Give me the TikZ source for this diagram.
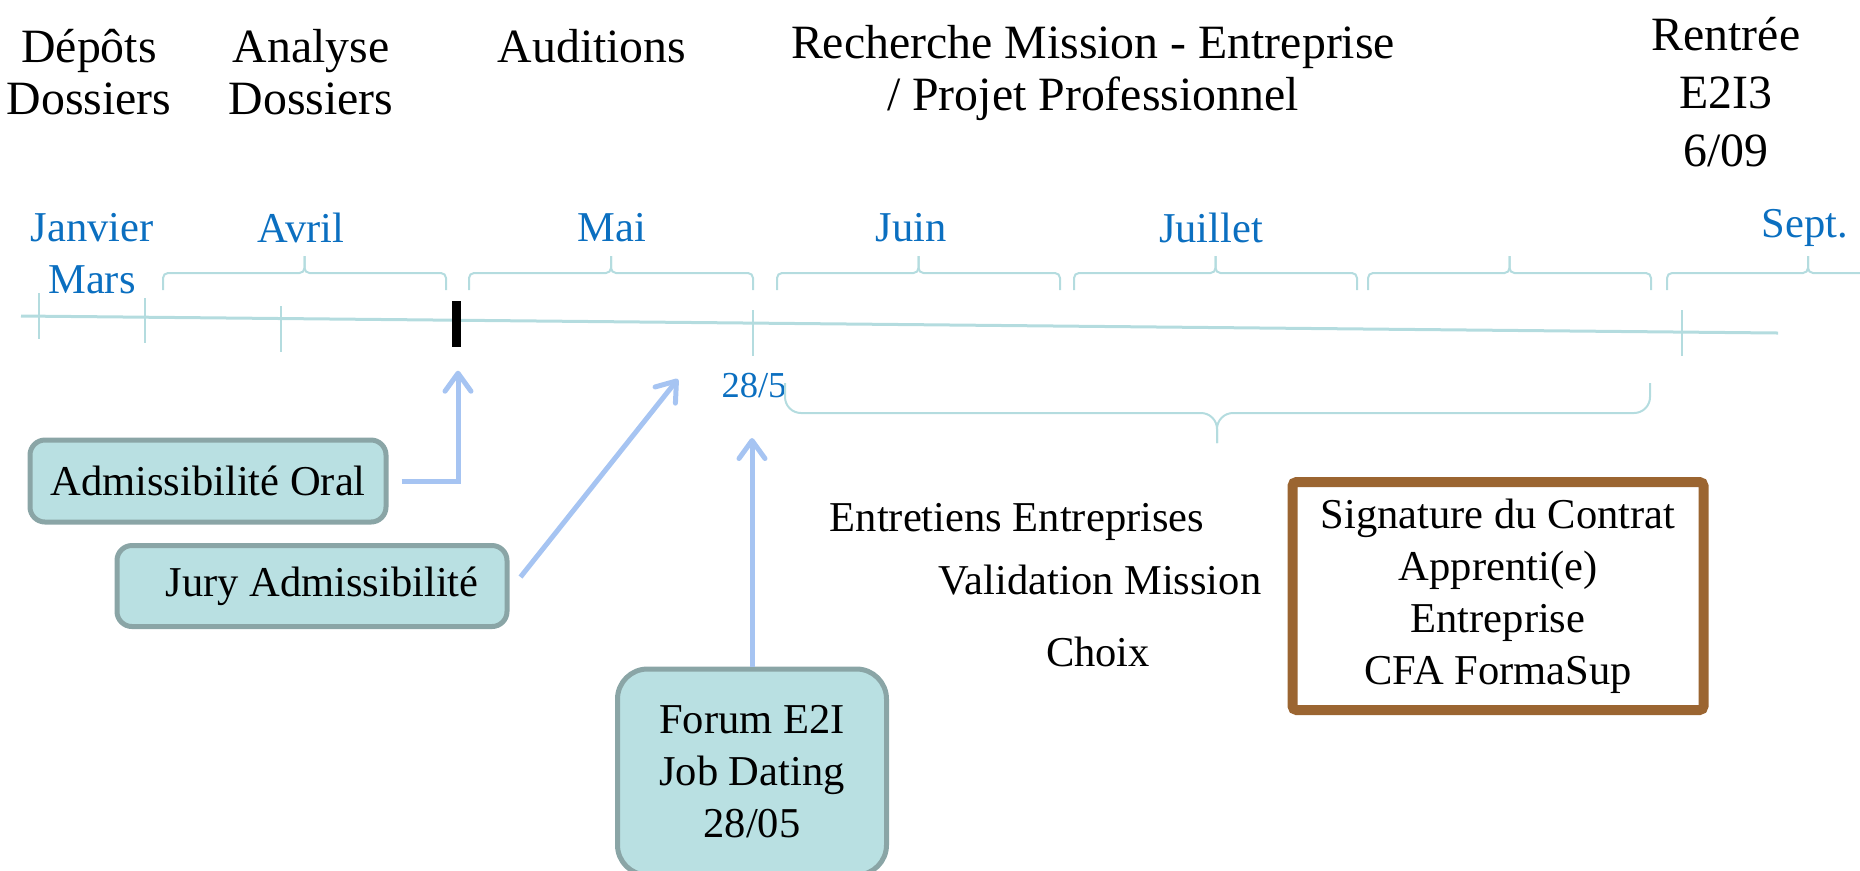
\documentclass[tikz,border=0pt]{standalone}
\usepackage{fontspec}
\setmainfont{Liberation Serif}
\usetikzlibrary{arrows.meta,positioning}
\definecolor{lineteal}{HTML}{B4DCDF}
\definecolor{monthblue}{HTML}{0B6FC0}
\definecolor{boxfill}{HTML}{B9E0E2}
\definecolor{boxborder}{HTML}{8AA5A6}
\definecolor{arrowblue}{HTML}{A6C4F2}
\definecolor{contractbrown}{HTML}{9B6531}
\begin{document}
\begin{tikzpicture}[
  x=0.1mm, y=-0.1mm,
  font=\fontsize{12.1}{14.8}\selectfont,
  label/.style={align=center, inner sep=0pt},
  phase/.style={align=center, inner sep=0pt, font=\fontsize{13.6}{14.6}\selectfont},
  month/.style={align=center, inner sep=0pt, text=monthblue},
  box/.style={rectangle, rounded corners=1.5mm, draw=boxborder, fill=boxfill, line width=0.5mm, align=center},
  contract/.style={rectangle, rounded corners=0.4mm, draw=contractbrown, fill=white, line width=1mm, align=center},
  tick/.style={draw=lineteal, line width=0.15mm},
  brace/.style={draw=lineteal, line width=0.2mm, rounded corners=0.5mm},
  arrow/.style={draw=arrowblue, line width=0.5mm, -{Straight Barb[round, length=1.8mm, width=2.6mm]}}
]
\useasboundingbox (0,0) rectangle (1860,870);
\clip (0,0) rectangle (1860,870);

% Phases
\node[phase] (depots) at (89,72) {Dépôts\\Dossiers};
\node[phase] (analyse) at (311,72) {Analyse\\Dossiers};
\node[phase] (auditions) at (592,46) {Auditions};
\node[phase] (recherche) at (1093,73) {Recherche Mission - Entreprise\\/ Projet Professionnel};
\node[phase, font=\fontsize{13.6}{16.5}\selectfont] (rentree) at (1726,92) {Rentrée\\E2I3\\6/09};

% Months
\node[month] (janvier) at (92,254) {Janvier\\Mars};
\node[month] (avril) at (301,228) {Avril};
\node[month] (mai) at (612,228) {Mai};
\node[month] (juin) at (911,228) {Juin};
\node[month] (juillet) at (1211,228) {Juillet};
\node[month] (sept) at (1805,228) {Sept.};
\node[month, font=\fontsize{10.4}{12}\selectfont] (d285) at (754,386) {28/5};

% Braces
\foreach \a/\b in {163/446, 469/753, 777/1060, 1074/1357, 1368/1651, 1667/1949} {
  \draw[brace] (\a,290) |- ({(\a+\b)/2},273) -- ({(\a+\b)/2},256);
  \draw[brace] (\b,290) |- ({(\a+\b)/2},273) -- ({(\a+\b)/2},256);
}
\draw[brace, rounded corners=1.6mm] (785,383) |- (1217,413) -- (1217,443);
\draw[brace, rounded corners=1.6mm] (1650,383) |- (1217,413) -- (1217,443);

% Timeline
\draw[draw=lineteal, line width=0.3mm] (21,316) -- (1778,333);
\foreach \x/\t/\b in {39/293/339, 145/298/343, 281/306/352, 753/310/356, 1682/310/356}
  \draw[tick] (\x,\t) -- (\x,\b);
\node[fill=black, minimum width=0.9mm, minimum height=4.6mm, inner sep=0pt] (bar) at (456,324) {};

% Events
\node[box, minimum width=3.56cm, minimum height=0.82cm] (adm) at (208,481) {Admissibilité Oral};
\node[box, minimum width=3.9cm, minimum height=0.81cm] (jury) at (312,586) {\hspace*{2mm}Jury Admissibilité};
\node[box, rounded corners=3mm, minimum width=2.69cm, minimum height=2.06cm] (forum) at (752,772) {Forum E2I\\Job Dating\\28/05};
\node[contract, minimum width=4.11cm, minimum height=2.28cm] (signature) at (1498,596) {Signature du Contrat\\Apprenti(e)\\Entreprise\\CFA FormaSup};

\node[label] (entretiens) at (1017,522) {Entretiens Entreprises};
\node[label] (validation) at (1100,580) {Validation Mission};
\node[label] (choix) at (1098,652) {Choix};

% Connections
\coordinate (jurytip) at (678,379);
\coordinate (forumtip) at (752,438);
\draw[arrow] ([xshift=1.3mm]adm.east) -| ([shift={(0.2mm,-2.3mm)}]bar.south);
\draw[arrow] ([shift={(1.1mm,0.9mm)}]jury.east) -- (jurytip);
\draw[arrow] (forum.north) -- (forumtip);
\end{tikzpicture}
\end{document}
